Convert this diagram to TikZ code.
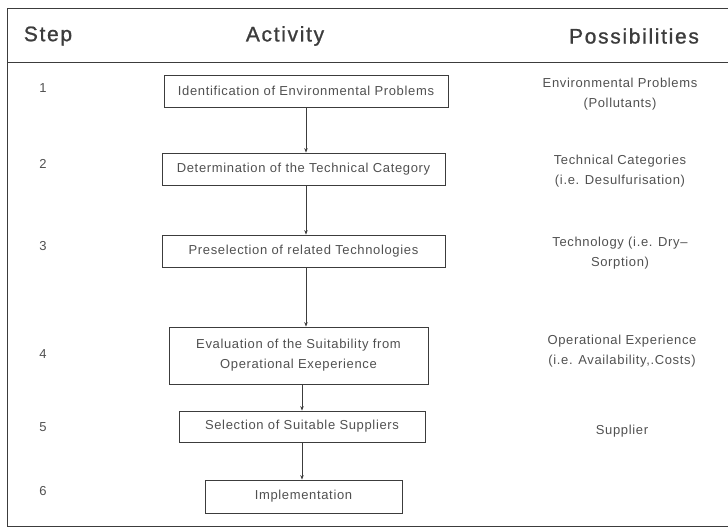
\documentclass[tikz,border=0pt]{standalone}
\usepackage{fontspec}
\setmainfont{Liberation Sans}
\newfontfamily\headfont[LetterSpace=8,FakeBold=1]{Liberation Sans}
\newfontfamily\bodyfont[LetterSpace=5]{Liberation Sans}
\usetikzlibrary{arrows.meta}
\definecolor{ink}{HTML}{3C3C3C}
\definecolor{txt}{HTML}{505050}
\tikzset{
  frame/.style={draw=ink, line width=0.9pt},
  stepbox/.style={draw=ink, line width=0.8pt, inner sep=0pt, align=center,
    font=\bodyfont\fontsize{13}{20}\selectfont, text=txt},
  head/.style={font=\headfont\fontsize{21}{24}\selectfont, text=ink},
  num/.style={font=\bodyfont\fontsize{13}{16}\selectfont, text=txt},
  poss/.style={font=\bodyfont\fontsize{13}{20}\selectfont, text=txt, align=center},
  arr/.style={draw=ink, line width=0.8pt, -{Stealth[length=4.5pt,width=3.5pt]}}
}
\begin{document}
\begin{tikzpicture}[x=1pt,y=-1pt]
\useasboundingbox (0,0) rectangle (728,528);
% frame
\coordinate (tl) at (7,8);
\coordinate (tr) at (728,8);
\coordinate (ml) at (7,62);
\coordinate (mr) at (728,62);
\coordinate (bl) at (7,526);
\coordinate (br) at (728,526);
\draw[frame] (tr) -- (tl) -- (bl) -- (br);
\draw[frame] (ml) -- (mr);
% header
\node[head] (hs) at (48,36) {Step};
\node[head] (ha) at (285,36) {Activity};
\node[head] (hp) at (634,36) {Possibilities};
% step numbers
\node[num] (n1) at (43,88) {1};
\node[num] (n2) at (43,164) {2};
\node[num] (n3) at (43,246) {3};
\node[num] (n4) at (43,354) {4};
\node[num] (n5) at (43,427) {5};
\node[num] (n6) at (43,491) {6};
% activity boxes
\node[stepbox, minimum width=284pt, minimum height=32pt] (b1) at (306,91) {Identification of Environmental Problems};
\node[stepbox, minimum width=283pt, minimum height=32pt] (b2) at (303.5,169) {Determination of the Technical Category};
\node[stepbox, minimum width=283pt, minimum height=32pt] (b3) at (303.5,251) {Preselection of related Technologies};
\node[stepbox, minimum width=259pt, minimum height=57pt] (b4) at (298.5,355.5) {Evaluation of the Suitability from\\Operational Exeperience};
\node[stepbox, minimum width=246pt, minimum height=31pt] (b5) at (302,426.5) {Selection of Suitable Suppliers};
\node[stepbox, minimum width=197pt, minimum height=33pt] (b6) at (303.5,496.5) {Implementation};
% arrows
\draw[arr] (b1.south) -- (b1.south |- b2.north);
\draw[arr] (b2.south -| b1.south) -- (b3.north -| b1.south);
\draw[arr] (b3.south -| b1.south) -- (b4.north -| b1.south);
\draw[arr] (b4.south -| b5.north) -- (b5.north);
\draw[arr] (b5.south) -- (b5.south |- b6.north);
% possibilities
\node[poss] (p1) at (620,94) {Environmental Problems\\(Pollutants)};
\node[poss] (p2) at (620,171) {Technical Categories\\(i.e. Desulfurisation)};
\node[poss] (p3) at (620,253) {Technology (i.e. Dry\textendash\\Sorption)};
\node[poss] (p4) at (622,351) {Operational Experience\\(i.e. Availability,.Costs)};
\node[poss] (p5) at (622,431) {Supplier};
\end{tikzpicture}
\end{document}
